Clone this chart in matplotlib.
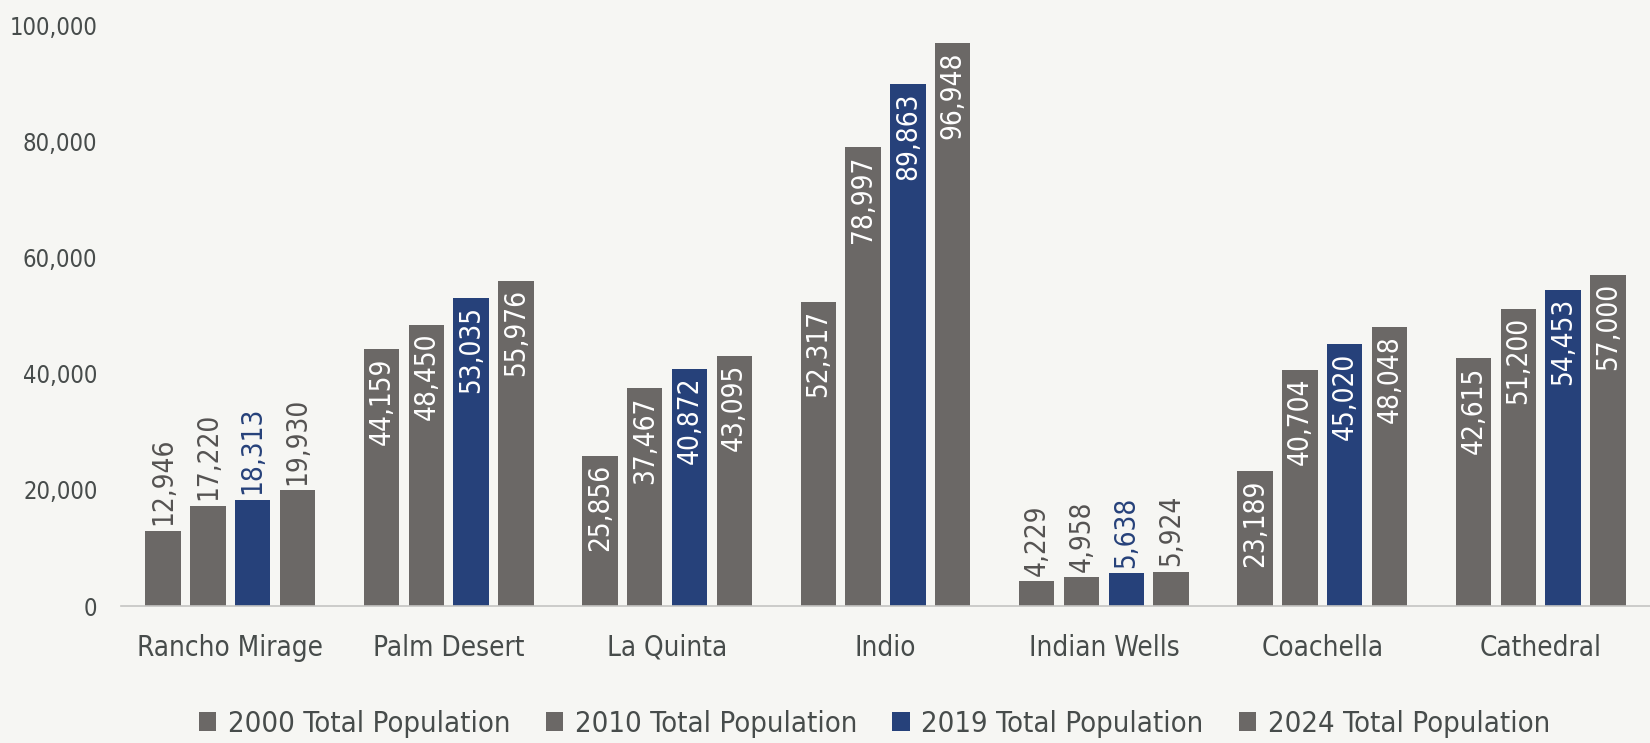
import numpy as np
import matplotlib
matplotlib.use('Agg')
import matplotlib.pyplot as plt
from matplotlib.ticker import FuncFormatter

# Data
# ------------------------------------------------------------------------

cities = ['Rancho Mirage', 'Palm Desert', 'La Quinta', 'Indio',
          'Indian Wells', 'Coachella', 'Cathedral']
series = ['2000 Total Population', '2010 Total Population',
          '2019 Total Population', '2024 Total Population']
pop_2000 = [12946, 44159, 25856, 52317, 4229, 23189, 42615]
pop_2010 = [17220, 48450, 37467, 78997, 4958, 40704, 51200]
pop_2019 = [18313, 53035, 40872, 89863, 5638, 45020, 54453]
pop_2024 = [19930, 55976, 43095, 96948, 5924, 48048, 57000]

# Plot
# ------------------------------------------------------------------------

plt.rcParams['font.family'] = ['DejaVu Sans']
plt.rcParams['font.stretch'] = 'condensed'

bg = '#f6f6f3'
grey = '#6b6866'
blue = '#26417a'
text_c = '#474c4b'
colors = [grey, grey, blue, grey]

fig = plt.figure(figsize=(16.5, 7.43), dpi=100, facecolor=bg)
ax = fig.add_axes([121 / 1650, 137 / 743, 1529 / 1650, 581 / 743])
ax.set_facecolor(bg)

x = np.arange(len(cities))
pitch = 0.205
width = 0.162
for i, (name, vals) in enumerate(zip(series, [pop_2000, pop_2010, pop_2019, pop_2024])):
    pos = x + (i - 1.5) * pitch
    bars = ax.bar(pos, vals, width, color=colors[i], label=name)
    for b, v in zip(bars, vals):
        cx = b.get_x() + b.get_width() / 2
        lab = f'{v:,}'
        if v >= 20000:
            ax.annotate(lab, (cx, v), xytext=(0, -6), textcoords='offset points',
                        rotation=90, ha='center', va='top', color='white',
                        fontsize=20)
        else:
            tc = blue if colors[i] == blue else '#555352'
            ax.annotate(lab, (cx, v), xytext=(0, 4), textcoords='offset points',
                        rotation=90, ha='center', va='bottom', color=tc,
                        fontsize=20)

ax.set_xlim(-0.5, 6.5)
ax.set_ylim(0, 100000)
ax.set_yticks(np.arange(0, 100001, 20000))
ax.yaxis.set_major_formatter(FuncFormatter(lambda v, p: f'{int(v):,}'))
ax.set_xticks(x)
ax.set_xticklabels(cities)
ax.tick_params(axis='both', length=0, labelsize=20, colors=text_c)
ax.tick_params(axis='y', pad=17, labelsize=17)
ax.tick_params(axis='x', pad=20)
for s in ['top', 'right', 'left']:
    ax.spines[s].set_visible(False)
ax.spines['bottom'].set_color('#c4c4c2')
ax.spines['bottom'].set_linewidth(1.2)

fig.legend(loc='center', bbox_to_anchor=(0.53, 0.026), ncol=4, frameon=False,
           fontsize=21, handlelength=0.6, handleheight=0.6, handletextpad=0.4,
           columnspacing=1.2, labelcolor=text_c)

plt.savefig('out.png', dpi=100, facecolor=bg)
